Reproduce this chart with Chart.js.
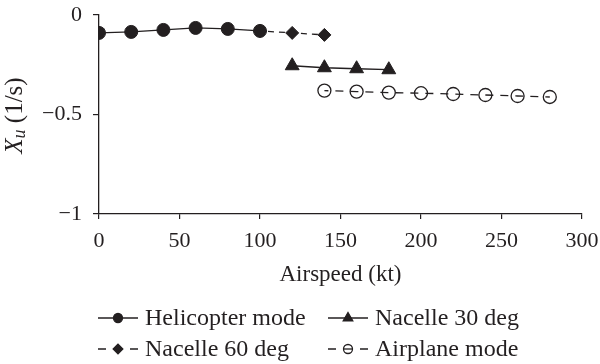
<!DOCTYPE html>
<html><head><meta charset="utf-8">
<script src="https://cdn.jsdelivr.net/npm/chart.js@4.4.0/dist/chart.umd.min.js"></script>
<style>html,body{margin:0;padding:0;background:#fff}#wrap{width:600px;height:364px;position:relative}</style>
</head><body><div id="wrap"><canvas id="c" width="600" height="364"></canvas></div>
<script>
// ---- data ----
const helicopterSpeed = [0, 20, 40, 60, 80, 100];
const helicopterXu = [-0.09, -0.085, -0.075, -0.065, -0.07, -0.08];
const nacelle30Speed = [120, 140, 160, 180];
const nacelle30Xu = [-0.255, -0.265, -0.27, -0.275];
const nacelle60Speed = [100, 120, 140];
const nacelle60Xu = [-0.08, -0.09, -0.1];
const airplaneSpeed = [140, 160, 180, 200, 220, 240, 260, 280];
const airplaneXu = [-0.38, -0.385, -0.39, -0.393, -0.397, -0.402, -0.407, -0.412];
const xTicks = [0, 50, 100, 150, 200, 250, 300];
const yTicks = [0, -0.5, -1];
const seriesNames = ['Helicopter mode', 'Nacelle 30 deg', 'Nacelle 60 deg', 'Airplane mode'];
const xTitle = 'Airspeed (kt)';
const yTitleMain = 'X', yTitleSub = 'u', yTitleRest = ' (1/s)';

const INK = '#231f20';
const SERIF = '"Liberation Serif", "DejaVu Serif", serif';

function pts(xs, ys) { return xs.map((x, i) => ({ x: x, y: ys[i] })); }

const datasets = [
  { label: seriesNames[0], data: pts(helicopterSpeed, helicopterXu), borderColor: INK, backgroundColor: INK,
    borderWidth: 1.3, pointStyle: 'circle', pointRadius: 6.5, pointBorderWidth: 1, legendMarker: { style: 'circle', r: 4.5, fill: true }, dashed: false },
  { label: seriesNames[1], data: pts(nacelle30Speed, nacelle30Xu), borderColor: INK, backgroundColor: INK,
    borderWidth: 1.3, pointStyle: 'triangle', pointRadius: 8, pointBorderWidth: 1, legendMarker: { style: 'triangle', r: 5.5, fill: true }, dashed: false },
  { label: seriesNames[2], data: pts(nacelle60Speed, nacelle60Xu), borderColor: INK, backgroundColor: INK,
    borderWidth: 1.3, borderDash: [6, 5], borderDashOffset: -8, pointStyle: 'rectRot', pointRadius: 6.5, pointBorderWidth: 1, legendMarker: { style: 'rectRot', r: 4.8, fill: true }, dashed: true },
  { label: seriesNames[3], data: pts(airplaneSpeed, airplaneXu), borderColor: INK, backgroundColor: 'rgba(0,0,0,0)',
    borderWidth: 1.3, borderDash: [8, 7], borderDashOffset: 4, pointStyle: 'circle', pointRadius: 6.5, pointBorderWidth: 1.3, legendMarker: { style: 'circle', r: 4.5, fill: false }, dashed: true }
];

const legendPlugin = {
  id: 'customLegend',
  afterDraw(chart) {
    const ctx = chart.ctx;
    const cols = [98, 328];
    const rows = [318, 349];
    const order = [[0, 0, 0], [1, 1, 0], [2, 0, 1], [3, 1, 1]];
    ctx.save();
    ctx.font = '24px ' + SERIF;
    ctx.textBaseline = 'middle';
    ctx.textAlign = 'left';
    order.forEach(([di, c, r]) => {
      const ds = chart.data.datasets[di];
      const x0 = cols[c], y = rows[r];
      ctx.strokeStyle = INK; ctx.lineWidth = 1.3; ctx.setLineDash([]);
      ctx.beginPath();
      if (ds.dashed) {
        ctx.moveTo(x0, y); ctx.lineTo(x0 + 8, y);
        ctx.moveTo(x0 + 32, y); ctx.lineTo(x0 + 40, y);
      } else {
        ctx.moveTo(x0, y); ctx.lineTo(x0 + 40, y);
      }
      ctx.stroke();
      const m = ds.legendMarker;
      ctx.fillStyle = m.fill ? INK : 'rgba(0,0,0,0)';
      ctx.strokeStyle = INK;
      Chart.helpers.drawPoint(ctx, { pointStyle: m.style, radius: m.r, borderWidth: 1.1, rotation: 0 }, x0 + 20, y);
      if (!m.fill) {
        ctx.beginPath(); ctx.moveTo(x0 + 20 - m.r, y); ctx.lineTo(x0 + 20 + m.r, y); ctx.stroke();
      }
      ctx.fillStyle = INK;
      ctx.fillText(ds.label, x0 + 47, y + 1);
    });
    ctx.restore();
  }
};

const yTitlePlugin = {
  id: 'yTitle',
  afterDraw(chart) {
    const ctx = chart.ctx;
    const area = chart.chartArea;
    const cy = (area.top + area.bottom) / 2 + 1;
    const cx = 15;
    ctx.save();
    ctx.translate(cx, cy);
    ctx.rotate(-Math.PI / 2);
    ctx.fillStyle = INK;
    ctx.textBaseline = 'middle';
    ctx.textAlign = 'left';
    const fMain = 'italic 25px ' + SERIF, fSub = 'italic 18px ' + SERIF, fRest = '25px ' + SERIF;
    ctx.font = fMain; const w1 = ctx.measureText(yTitleMain).width;
    ctx.font = fSub; const w2 = ctx.measureText(yTitleSub).width;
    ctx.font = fRest; const w3 = ctx.measureText(yTitleRest).width;
    let x = -(w1 + w2 + w3) / 2;
    ctx.font = fMain; ctx.fillText(yTitleMain, x, 0); x += w1;
    ctx.font = fSub; ctx.fillText(yTitleSub, x, 5); x += w2;
    ctx.font = fRest; ctx.fillText(yTitleRest, x, 0);
    ctx.restore();
  }
};

new Chart(document.getElementById('c'), {
  type: 'line',
  data: { datasets: datasets },
  options: {
    responsive: false,
    devicePixelRatio: 1,
    animation: false,
    layout: { padding: { top: 15, right: 18, bottom: 75, left: 0 } },
    plugins: { legend: { display: false }, tooltip: { enabled: false } },
    elements: { line: { tension: 0 } },
    scales: {
      x: {
        type: 'linear', min: 0, max: 300,
        afterBuildTicks: s => { s.ticks = xTicks.map(v => ({ value: v })); },
        afterFit: s => { s.height = 75; s.paddingLeft = 0; s.paddingRight = 0; },
        grid: { drawOnChartArea: false, drawTicks: true, tickLength: 5, color: INK, lineWidth: 1.2 },
        border: { color: INK, width: 1.3 },
        ticks: { color: INK, font: { family: SERIF, size: 22 }, padding: 9, maxRotation: 0, autoSkip: false },
        title: { display: true, text: xTitle, color: INK, font: { family: SERIF, size: 23 }, padding: 0 }
      },
      y: {
        type: 'linear', min: -1, max: 0,
        afterBuildTicks: s => { s.ticks = yTicks.map(v => ({ value: v })); },
        afterFit: s => { s.width = 99; s.paddingTop = 0; s.paddingBottom = 0; },
        grid: { drawOnChartArea: false, drawTicks: true, tickLength: 6, color: INK, lineWidth: 1.2 },
        border: { color: INK, width: 1.3 },
        ticks: { color: INK, font: { family: SERIF, size: 22 }, padding: 11, autoSkip: false,
          callback: v => v === 0 ? '0' : '\u2212' + Math.abs(v) }
      }
    }
  },
  plugins: [legendPlugin, yTitlePlugin]
});
</script>
</body></html>
